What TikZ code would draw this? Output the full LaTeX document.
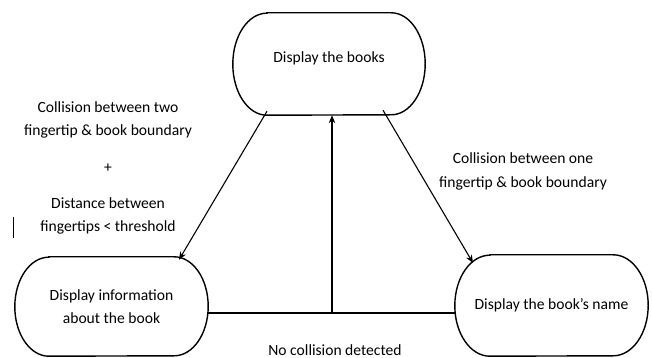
\documentclass[tikz,border=0pt]{standalone}
\usepackage{fontspec}
\setmainfont{Carlito}
\usetikzlibrary{arrows.meta}

% stadium outline with elliptical ends drawn round a named node
\newcommand\stadiumoutline[3]{%
  \draw[stateline] ([xshift=#2]#1.north west) -- ([xshift=-#2]#1.north east)
    arc[start angle=90,end angle=-90,x radius=#2,y radius=#3]
    -- ([xshift=#2]#1.south west)
    arc[start angle=270,end angle=90,x radius=#2,y radius=#3] -- cycle;}

\begin{document}
\begin{tikzpicture}[x=1pt,y=1pt,
  stateline/.style={line width=1.4pt,black},
  statebox/.style={inner sep=0pt,align=center,font=\fontsize{15.6}{23}\selectfont},
  conn/.style={line width=1.1pt,black},
  arr/.style={conn,-{Stealth[length=8pt,width=6.5pt]}},
  lbl/.style={align=center,font=\fontsize{15.6}{23.5}\selectfont}]
\useasboundingbox (0,0) rectangle (652,358);

% states
\node[statebox,minimum width=192pt,minimum height=102pt] (top) at (329,294) {};
\node[statebox] (toptext) at (329,300) {Display the books};
\stadiumoutline{top}{34pt}{51pt}

\node[statebox,minimum width=193pt,minimum height=99pt] (left) at (111.5,51.5) {Display information\\about the book};
\stadiumoutline{left}{34pt}{49.5pt}

\node[statebox,minimum width=193pt,minimum height=101pt] (right) at (551.5,52.5) {Display the book’s name};
\stadiumoutline{right}{35pt}{50.5pt}

% transitions
\coordinate (ltail) at ([xshift=-62pt,yshift=4pt]top.south);
\coordinate (lhead) at ([xshift=67.5pt,yshift=-3pt]left.north);
\draw[arr] (ltail) -- (lhead);

\coordinate (rtail) at ([xshift=54pt,yshift=5pt]top.south);
\coordinate (rhead) at (473,95);
\draw[arr] (rtail) -- (rhead);

\coordinate (join) at (332,45);
\draw[conn] ([yshift=-6.5pt]left.east) -- ([yshift=-7.5pt]right.west);
\draw[arr] (join) -- (join |- top.south);

% labels
\node[lbl] (lcond) at (108,238) {Collision between two\\fingertip \& book boundary};
\node[lbl] (plus) at (108,190) {+};
\node[lbl] (ldist) at (108,142) {Distance between\\fingertips < threshold};
\node[lbl] (rcond) at (523,186.5) {Collision between one\\fingertip \& book boundary};
\node[lbl] (none) at (335,8) {No collision detected};

% short vertical stroke beside the left label
\draw[line width=0.8pt] (13,141) -- (13,120);
\end{tikzpicture}
\end{document}
